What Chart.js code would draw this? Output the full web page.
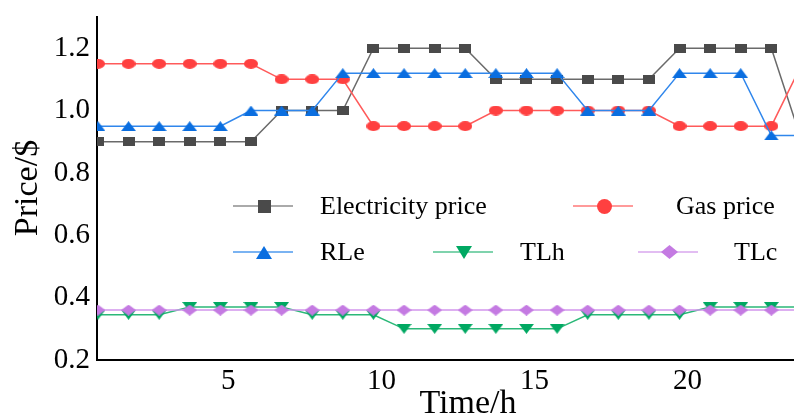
<!DOCTYPE html>
<html>
<head>
<meta charset="utf-8">
<script src="https://cdn.jsdelivr.net/npm/chart.js@4.4.1/dist/chart.umd.min.js"></script>
<style>
  html, body { margin: 0; padding: 0; background: #fff; }
  #wrap { width: 794px; height: 417px; }
</style>
</head>
<body>
<div id="wrap"><canvas id="priceChart" width="794" height="417"></canvas></div>
<script>
// hourly values
const hours = [1, 2, 3, 4, 5, 6, 7, 8, 9, 10, 11, 12, 13, 14, 15, 16, 17, 18, 19, 20, 21, 22, 23, 24];
const electricityPrice = [0.9, 0.9, 0.9, 0.9, 0.9, 0.9, 1.0, 1.0, 1.0, 1.2, 1.2, 1.2, 1.2, 1.1, 1.1, 1.1, 1.1, 1.1, 1.1, 1.2, 1.2, 1.2, 1.2, 0.9];
const gasPrice = [1.15, 1.15, 1.15, 1.15, 1.15, 1.15, 1.1, 1.1, 1.1, 0.95, 0.95, 0.95, 0.95, 1.0, 1.0, 1.0, 1.0, 1.0, 1.0, 0.95, 0.95, 0.95, 0.95, 1.15];
const rle = [0.95, 0.95, 0.95, 0.95, 0.95, 1.0, 1.0, 1.0, 1.12, 1.12, 1.12, 1.12, 1.12, 1.12, 1.12, 1.12, 1.0, 1.0, 1.0, 1.12, 1.12, 1.12, 0.92, 0.92];
const tlh = [0.345, 0.345, 0.345, 0.37, 0.37, 0.37, 0.37, 0.345, 0.345, 0.345, 0.3, 0.3, 0.3, 0.3, 0.3, 0.3, 0.345, 0.345, 0.345, 0.345, 0.37, 0.37, 0.37, 0.37];
const tlc = [0.36, 0.36, 0.36, 0.36, 0.36, 0.36, 0.36, 0.36, 0.36, 0.36, 0.36, 0.36, 0.36, 0.36, 0.36, 0.36, 0.36, 0.36, 0.36, 0.36, 0.36, 0.36, 0.36, 0.36];
const seriesNames = ["Electricity price", "Gas price", "RLe", "TLh", "TLc"];
const xTicks = [5, 10, 15, 20];
const yTicks = [0.2, 0.4, 0.6, 0.8, 1.0, 1.2];

const SERIF = "'Liberation Serif', 'DejaVu Serif', serif";

// little canvases used as point styles (markers are a bit squashed in the original)
function makeMarker(shape, w, h, color) {
  const c = document.createElement("canvas");
  c.width = w; c.height = h;
  const g = c.getContext("2d");
  g.fillStyle = color;
  g.beginPath();
  if (shape === "square") g.rect(0, 0, w, h);
  else if (shape === "ellipse") g.ellipse(w / 2, h / 2, w / 2, h / 2, 0, 0, Math.PI * 2);
  else if (shape === "up") { g.moveTo(w / 2, 0); g.lineTo(w, h); g.lineTo(0, h); }
  else if (shape === "down") { g.moveTo(0, 0); g.lineTo(w, 0); g.lineTo(w / 2, h); }
  else if (shape === "diamond") { g.moveTo(w / 2, 0); g.lineTo(w, h / 2); g.lineTo(w / 2, h); g.lineTo(0, h / 2); }
  g.closePath();
  g.fill();
  return c;
}

const styles = [
  { marker: "#4a4a4a", line: "#6a6a6a", legendLine: "#aaaaaa", shape: "square",  plot: [12, 9],  key: [13, 13] },
  { marker: "#ff4040", line: "#ff5a5a", legendLine: "#ff9a9a", shape: "ellipse", plot: [14, 10], key: [15, 15] },
  { marker: "#0a6ee0", line: "#2f86ec", legendLine: "#7ab3f2", shape: "up",      plot: [15, 10], key: [16, 13] },
  { marker: "#00a862", line: "#2bb878", legendLine: "#7fd3ad", shape: "down",    plot: [15, 10], key: [16, 13] },
  { marker: "#c47ae2", line: "#d294ec", legendLine: "#e2bdf2", shape: "diamond", plot: [15, 11], key: [17, 14] }
];
styles.forEach(s => {
  s.plotImg = makeMarker(s.shape, s.plot[0], s.plot[1], s.marker);
  s.keyImg = makeMarker(s.shape, s.key[0], s.key[1], s.marker);
});

const allValues = [electricityPrice, gasPrice, rle, tlh, tlc];
const drawOrder = [5, 4, 2, 3, 1]; // higher order is painted first (underneath)

const datasets = allValues.map((vals, i) => ({
  label: seriesNames[i],
  data: hours.map((h, k) => ({ x: h, y: vals[k] })),
  borderColor: styles[i].line,
  backgroundColor: styles[i].marker,
  borderWidth: 1.5,
  pointStyle: styles[i].plotImg,
  pointRadius: 7,
  tension: 0,
  order: drawOrder[i]
}));

// legend laid out in two rows inside the plot, like the figure
const legendSlots = [
  { lineX: 233, textX: 320, y: 206 },
  { lineX: 573, textX: 676, y: 206 },
  { lineX: 233, textX: 320, y: 252 },
  { lineX: 433, textX: 520, y: 252 },
  { lineX: 638, textX: 734, y: 252 }
];

const figureDecor = {
  id: "figureDecor",
  afterDraw(chart) {
    const ctx = chart.ctx;
    ctx.save();
    // legend
    ctx.font = "26px " + SERIF;
    ctx.textBaseline = "middle";
    ctx.textAlign = "left";
    legendSlots.forEach((slot, i) => {
      const s = styles[i];
      ctx.strokeStyle = s.legendLine;
      ctx.lineWidth = 2;
      ctx.beginPath();
      ctx.moveTo(slot.lineX, slot.y);
      ctx.lineTo(slot.lineX + 60, slot.y);
      ctx.stroke();
      ctx.drawImage(s.keyImg, Math.round(slot.lineX + 31 - s.key[0] / 2), Math.round(slot.y - s.key[1] / 2));
      ctx.fillStyle = "#000";
      ctx.fillText(seriesNames[i], slot.textX, slot.y + 1);
    });
    // axis titles
    ctx.font = "34px " + SERIF;
    ctx.textAlign = "center";
    ctx.textBaseline = "alphabetic";
    ctx.fillText("Time/h", 468, 413);
    ctx.translate(37, 188);
    ctx.rotate(-Math.PI / 2);
    ctx.fillText("Price/$", 0, 0);
    ctx.restore();
  }
};

new Chart(document.getElementById("priceChart"), {
  type: "line",
  data: { datasets },
  plugins: [figureDecor],
  options: {
    responsive: false,
    animation: false,
    events: [],
    layout: { autoPadding: false, padding: { top: 17, right: 0, bottom: 0, left: 0 } },
    plugins: { legend: { display: false }, tooltip: { enabled: false } },
    scales: {
      x: {
        type: "linear",
        min: 0.97,
        max: 23.74,
        afterBuildTicks: scale => { scale.ticks = xTicks.map(v => ({ value: v })); },
        afterFit: scale => { scale.height = 57; scale.paddingLeft = 0; scale.paddingRight = 0; },
        grid: { display: false, drawTicks: false },
        border: { display: true, color: "#000", width: 2 },
        ticks: {
          color: "#000",
          font: { family: SERIF, size: 29 },
          padding: 4,
          labelOffset: 8,
          maxRotation: 0,
          autoSkip: false,
          callback: v => String(v)
        }
      },
      y: {
        min: 0.2,
        max: 1.3,
        afterBuildTicks: scale => { scale.ticks = yTicks.map(v => ({ value: v })); },
        afterFit: scale => { scale.width = 97; scale.paddingTop = 0; scale.paddingBottom = 0; },
        grid: { display: false, drawTicks: false },
        border: { display: true, color: "#000", width: 2 },
        ticks: {
          color: "#000",
          font: { family: SERIF, size: 29 },
          padding: 7,
          autoSkip: false,
          callback: v => v.toFixed(1)
        }
      }
    }
  }
});
</script>
</body>
</html>
